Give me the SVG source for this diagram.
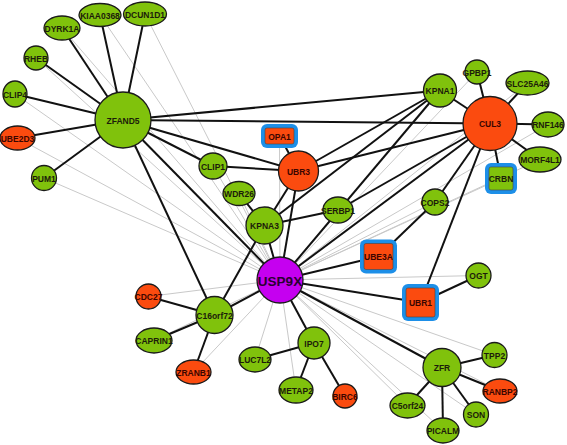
<svg xmlns="http://www.w3.org/2000/svg" width="567" height="445" viewBox="0 0 567 445">
<style>
.gl{stroke:#c9c9c9;stroke-width:1}
.bl{stroke:#111;stroke-width:2}
.n{stroke:#1a1a1a;stroke-width:1.3}
.g{fill:#80c20c}
.o{fill:#fb4b0f}
.p{fill:#c500f0}
.bx{fill:#1d8fe8}
.in{stroke:#444;stroke-width:0.6}
text{font-family:"Liberation Sans",Arial,sans-serif;font-weight:bold;font-size:8.5px;text-anchor:middle;dominant-baseline:central;fill:#1c1c0a}
.to{fill:#3a0500}
</style>
<rect width="567" height="445" fill="#fff"/>
<g id="connectors">
<g class="gl">
<line x1="280" y1="280" x2="62" y2="28"/>
<line x1="280" y1="280" x2="100" y2="15"/>
<line x1="280" y1="280" x2="145" y2="14"/>
<line x1="280" y1="280" x2="36" y2="58"/>
<line x1="280" y1="280" x2="15" y2="94"/>
<line x1="280" y1="280" x2="17.5" y2="138"/>
<line x1="280" y1="280" x2="44" y2="178"/>
<line x1="280" y1="280" x2="213" y2="166"/>
<line x1="280" y1="280" x2="239" y2="193.5"/>
<line x1="280" y1="280" x2="279.5" y2="136"/>
<line x1="280" y1="280" x2="338" y2="210"/>
<line x1="280" y1="280" x2="477" y2="72"/>
<line x1="280" y1="280" x2="527.5" y2="83"/>
<line x1="280" y1="280" x2="548" y2="124.5"/>
<line x1="280" y1="280" x2="540" y2="159.5"/>
<line x1="280" y1="280" x2="501" y2="178.5"/>
<line x1="280" y1="280" x2="435" y2="202"/>
<line x1="280" y1="280" x2="478.5" y2="275.5"/>
<line x1="280" y1="280" x2="494.5" y2="355"/>
<line x1="280" y1="280" x2="500" y2="391"/>
<line x1="280" y1="280" x2="476" y2="414.5"/>
<line x1="280" y1="280" x2="443" y2="430.5"/>
<line x1="280" y1="280" x2="407.5" y2="405.5"/>
<line x1="280" y1="280" x2="255" y2="359.5"/>
<line x1="280" y1="280" x2="296" y2="390"/>
<line x1="280" y1="280" x2="148.5" y2="296.5"/>
<line x1="280" y1="280" x2="154" y2="340.5"/>
<line x1="280" y1="280" x2="193.5" y2="372"/>
</g>
<g class="bl">
<line x1="123" y1="120" x2="62" y2="28"/>
<line x1="123" y1="120" x2="100" y2="15"/>
<line x1="123" y1="120" x2="145" y2="14"/>
<line x1="123" y1="120" x2="36" y2="58"/>
<line x1="123" y1="120" x2="15" y2="94"/>
<line x1="123" y1="120" x2="17.5" y2="138"/>
<line x1="123" y1="120" x2="44" y2="178"/>
<line x1="123" y1="120" x2="440" y2="90.5"/>
<line x1="123" y1="120" x2="490" y2="123.5"/>
<line x1="123" y1="120" x2="298.5" y2="171"/>
<line x1="123" y1="120" x2="213" y2="166"/>
<line x1="123" y1="120" x2="280" y2="280"/>
<line x1="123" y1="120" x2="214.5" y2="315"/>
<line x1="213" y1="166" x2="298.5" y2="171"/>
<line x1="279.5" y1="136" x2="298.5" y2="171"/>
<line x1="298.5" y1="171" x2="440" y2="90.5"/>
<line x1="298.5" y1="171" x2="490" y2="123.5"/>
<line x1="298.5" y1="171" x2="264.5" y2="225.5"/>
<line x1="298.5" y1="171" x2="280" y2="280"/>
<line x1="440" y1="90.5" x2="490" y2="123.5"/>
<line x1="440" y1="90.5" x2="264.5" y2="225.5"/>
<line x1="440" y1="90.5" x2="280" y2="280"/>
<line x1="490" y1="123.5" x2="477" y2="72"/>
<line x1="490" y1="123.5" x2="527.5" y2="83"/>
<line x1="490" y1="123.5" x2="548" y2="124.5"/>
<line x1="490" y1="123.5" x2="540" y2="159.5"/>
<line x1="490" y1="123.5" x2="501" y2="178.5"/>
<line x1="490" y1="123.5" x2="435" y2="202"/>
<line x1="490" y1="123.5" x2="420.5" y2="302.5"/>
<line x1="490" y1="123.5" x2="338" y2="210"/>
<line x1="490" y1="123.5" x2="280" y2="280"/>
<line x1="338" y1="210" x2="264.5" y2="225.5"/>
<line x1="239" y1="193.5" x2="264.5" y2="225.5"/>
<line x1="264.5" y1="225.5" x2="280" y2="280"/>
<line x1="264.5" y1="225.5" x2="214.5" y2="315"/>
<line x1="280" y1="280" x2="378.5" y2="256.5"/>
<line x1="280" y1="280" x2="420.5" y2="302.5"/>
<line x1="280" y1="280" x2="442" y2="367.5"/>
<line x1="280" y1="280" x2="314" y2="343"/>
<line x1="280" y1="280" x2="214.5" y2="315"/>
<line x1="435" y1="202" x2="378.5" y2="256.5"/>
<line x1="420.5" y1="302.5" x2="478.5" y2="275.5"/>
<line x1="214.5" y1="315" x2="148.5" y2="296.5"/>
<line x1="214.5" y1="315" x2="154" y2="340.5"/>
<line x1="214.5" y1="315" x2="193.5" y2="372"/>
<line x1="314" y1="343" x2="255" y2="359.5"/>
<line x1="314" y1="343" x2="296" y2="390"/>
<line x1="314" y1="343" x2="345" y2="396"/>
<line x1="442" y1="367.5" x2="494.5" y2="355"/>
<line x1="442" y1="367.5" x2="500" y2="391"/>
<line x1="442" y1="367.5" x2="476" y2="414.5"/>
<line x1="442" y1="367.5" x2="443" y2="430.5"/>
<line x1="442" y1="367.5" x2="407.5" y2="405.5"/>
</g>
</g>
<g id="ZFAND5"><circle class="n g" cx="123" cy="120" r="28"/><text x="123" y="121">ZFAND5</text></g>
<g id="DYRK1A"><ellipse class="n g" cx="62" cy="28" rx="18" ry="12"/><text x="62" y="28.5">DYRK1A</text></g>
<g id="KIAA0368"><ellipse class="n g" cx="100" cy="15" rx="21" ry="11.5"/><text x="100" y="15.5">KIAA0368</text></g>
<g id="DCUN1D1"><ellipse class="n g" cx="145" cy="14" rx="21.5" ry="12"/><text x="145" y="14.5">DCUN1D1</text></g>
<g id="RHEB"><ellipse class="n g" cx="36" cy="58" rx="12" ry="12"/><text x="36" y="58.5">RHEB</text></g>
<g id="CLIP4"><ellipse class="n g" cx="15" cy="94" rx="12" ry="13"/><text x="15" y="94.5">CLIP4</text></g>
<g id="UBE2D3"><ellipse class="n o" cx="17.5" cy="138" rx="17.5" ry="12"/><text class="to" x="17.5" y="138.5">UBE2D3</text></g>
<g id="PUM1"><circle class="n g" cx="44" cy="178" r="12.5"/><text x="44" y="178.5">PUM1</text></g>
<g id="CDC27"><circle class="n o" cx="148.5" cy="296.5" r="12.5"/><text class="to" x="148.5" y="297">CDC27</text></g>
<g id="C16orf72"><circle class="n g" cx="214.5" cy="315" r="18.5"/><text x="214.5" y="315.5">C16orf72</text></g>
<g id="CAPRIN1"><ellipse class="n g" cx="154" cy="340.5" rx="18" ry="12.5"/><text x="154" y="341">CAPRIN1</text></g>
<g id="ZRANB1"><ellipse class="n o" cx="193.5" cy="372" rx="17.5" ry="12"/><text class="to" x="193.5" y="372.5">ZRANB1</text></g>
<g id="IPO7"><circle class="n g" cx="314" cy="343" r="16"/><text x="314" y="343.5">IPO7</text></g>
<g id="LUC7L2"><ellipse class="n g" cx="255" cy="359.5" rx="16" ry="12.5"/><text x="255" y="360">LUC7L2</text></g>
<g id="METAP2"><ellipse class="n g" cx="296" cy="390" rx="17" ry="13"/><text x="296" y="390.5">METAP2</text></g>
<g id="BIRC6"><circle class="n o" cx="345" cy="396" r="12"/><text class="to" x="345" y="396.5">BIRC6</text></g>
<g id="ZFR"><circle class="n g" cx="442" cy="367.5" r="19"/><text x="442" y="368">ZFR</text></g>
<g id="TPP2"><circle class="n g" cx="494.5" cy="355" r="12.5"/><text x="494.5" y="355.5">TPP2</text></g>
<g id="RANBP2"><ellipse class="n o" cx="500" cy="391" rx="17" ry="12"/><text class="to" x="500" y="391.5">RANBP2</text></g>
<g id="SON"><circle class="n g" cx="476" cy="414.5" r="12.5"/><text x="476" y="415">SON</text></g>
<g id="PICALM"><ellipse class="n g" cx="443" cy="430.5" rx="16" ry="12.5"/><text x="443" y="431">PICALM</text></g>
<g id="C5orf24"><ellipse class="n g" cx="407.5" cy="405.5" rx="17.5" ry="12.5"/><text x="407.5" y="406">C5orf24</text></g>
<g id="OGT"><circle class="n g" cx="478.5" cy="275.5" r="12.5"/><text x="478.5" y="276">OGT</text></g>
<g id="COPS2"><circle class="n g" cx="435" cy="202" r="13"/><text x="435" y="202.5">COPS2</text></g>
<g id="MORF4L1"><ellipse class="n g" cx="540" cy="159.5" rx="21" ry="12.5"/><text x="540" y="160">MORF4L1</text></g>
<g id="CUL3"><circle class="n o" cx="490" cy="123.5" r="27"/><text class="to" x="490" y="124">CUL3</text></g>
<g id="RNF146"><ellipse class="n g" cx="548" cy="124.5" rx="16" ry="12.5"/><text x="548" y="125">RNF146</text></g>
<g id="SLC25A46"><ellipse class="n g" cx="527.5" cy="83" rx="21.5" ry="12"/><text x="527.5" y="83.5">SLC25A46</text></g>
<g id="GPBP1"><circle class="n g" cx="477" cy="72" r="12"/><text x="477" y="72.5">GPBP1</text></g>
<g id="KPNA1"><circle class="n g" cx="440" cy="90.5" r="16.5"/><text x="440" y="91">KPNA1</text></g>
<g id="UBR3"><circle class="n o" cx="298.5" cy="171" r="20"/><text class="to" x="298.5" y="171.5">UBR3</text></g>
<g id="CLIP1"><ellipse class="n g" cx="213" cy="166" rx="14" ry="13"/><text x="213" y="166.5">CLIP1</text></g>
<g id="WDR26"><ellipse class="n g" cx="239" cy="193.5" rx="16" ry="12"/><text x="239" y="194">WDR26</text></g>
<g id="KPNA3"><circle class="n g" cx="264.5" cy="225.5" r="18.5"/><text x="264.5" y="226">KPNA3</text></g>
<g id="SERBP1"><ellipse class="n g" cx="338" cy="210" rx="15" ry="13"/><text x="338" y="210.5">SERBP1</text></g>
<g id="USP9X"><circle class="n p" cx="280" cy="280" r="23"/><text x="280" y="281" style="font-size:13.5px;fill:#2a0030">USP9X</text></g>
<g id="OPA1"><rect class="bx" x="261" y="124" width="37" height="24" rx="6"/><rect class="o in" x="265" y="128" width="29" height="16" rx="2"/><text class="to" x="279.5" y="136.5">OPA1</text></g>
<g id="CRBN"><rect class="bx" x="485" y="163" width="32" height="31" rx="6"/><rect class="g in" x="489" y="167" width="24" height="23" rx="2"/><text x="501" y="179">CRBN</text></g>
<g id="UBE3A"><rect class="bx" x="360" y="239.5" width="37" height="34" rx="6"/><rect class="o in" x="364" y="243.5" width="29" height="26" rx="2"/><text class="to" x="378.5" y="257">UBE3A</text></g>
<g id="UBR1"><rect class="bx" x="402" y="284" width="37" height="37" rx="6"/><rect class="o in" x="406" y="288" width="29" height="29" rx="2"/><text class="to" x="420.5" y="303">UBR1</text></g>
</svg>
